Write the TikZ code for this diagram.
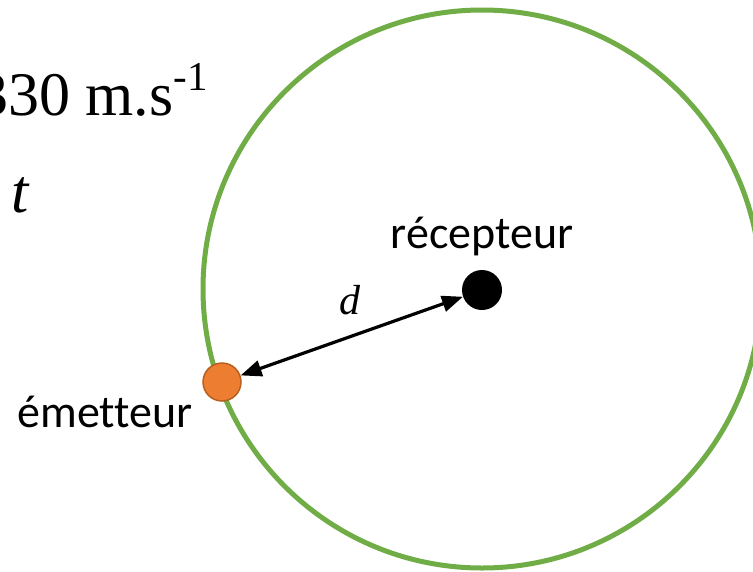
\documentclass[tikz,border=0pt]{standalone}
\usepackage{fontspec}
\setmainfont{Liberation Serif}
\newfontfamily\labelfont[Ligatures=NoCommon]{Carlito}
\usetikzlibrary{arrows.meta}
\definecolor{frontgreen}{HTML}{70AD47}
\definecolor{emitorange}{HTML}{ED7D31}
\definecolor{emitedge}{HTML}{B85F22}
\tikzset{
  front/.style={line width=5pt, frontgreen},
  dot/.style={circle, inner sep=0pt, minimum size=40pt},
  lbl/.style={font=\labelfont\fontsize{46}{50}\selectfont, anchor=base, inner sep=0pt},
  big/.style={anchor=base west, inner sep=0pt, font=\fontsize{62}{66}\selectfont},
  dist/.style={line width=3.2pt, {Triangle[length=21pt,width=16pt]}-{Triangle[length=21pt,width=16pt]}}
}
\begin{document}
\begin{tikzpicture}[x=1pt, y=-1pt]
  \useasboundingbox (0,0) rectangle (753,571);
  \clip (0,0) rectangle (753,571);
  % formule coupee a gauche
  \node[big] (vitesse) at (-23,115) {330 m.s\raisebox{0.4em}{\fontsize{41}{43}\selectfont -1}};
  \node[big] (temps) at (11,212) {\textit{t}};
  % front d'onde
  \draw[front] (482,289) circle (279pt);
  % recepteur et emetteur
  \node[dot, fill=black] (recv) at (482,290) {};
  \node[dot, minimum size=38pt, fill=emitorange, draw=emitedge, line width=1.5pt] (emit) at (222,382) {};
  \node[lbl] (recvlabel) at (482,248) {récepteur};
  \node[lbl] (emitlabel) at (105,427) {émetteur};
  % distance
  \draw[dist] (emit) -- (recv);
  \node[anchor=base, inner sep=0pt, font=\fontsize{42}{46}\selectfont] (dlabel) at (350,314) {\textit{d}};
\end{tikzpicture}
\end{document}
